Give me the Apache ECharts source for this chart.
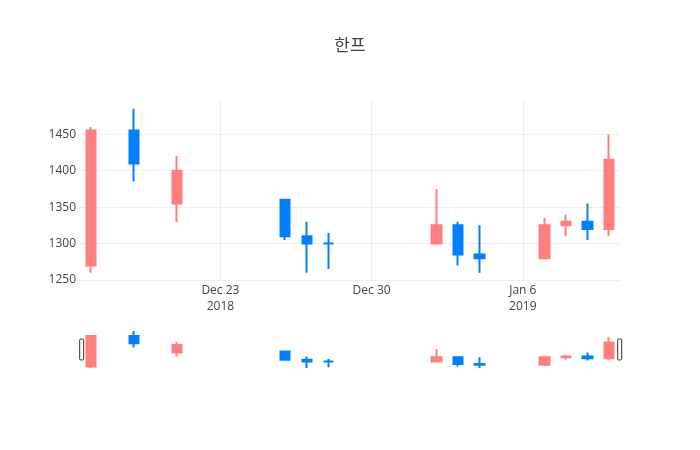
<!DOCTYPE html>
<html>
<head>
<meta charset="utf-8">
<script src="https://cdn.jsdelivr.net/npm/echarts@6/dist/echarts.min.js"></script>
<style>
  html, body { margin: 0; padding: 0; background: #fff; }
  #chart { width: 700px; height: 450px; }
</style>
</head>
<body>
<div id="chart"></div>
<script>
var dates = ['2018-12-17', '2018-12-19', '2018-12-21', '2018-12-26', '2018-12-27', '2018-12-28',
             '2019-01-02', '2019-01-03', '2019-01-04', '2019-01-07', '2019-01-08', '2019-01-09', '2019-01-10']
var opens  = [1270, 1455, 1355, 1360, 1310, 1300, 1300, 1325, 1285, 1280, 1325, 1330, 1320]
var highs  = [1460, 1485, 1420, 1360, 1330, 1315, 1375, 1330, 1325, 1335, 1340, 1355, 1450]
var lows   = [1260, 1385, 1330, 1305, 1260, 1265, 1300, 1270, 1260, 1280, 1310, 1305, 1310]
var closes = [1455, 1410, 1400, 1310, 1300, 1300, 1325, 1285, 1280, 1325, 1330, 1320, 1415]

var tickDates  = ['2018-12-23', '2018-12-30', '2019-01-06']
var tickLabels = ['Dec 23\n2018', 'Dec 30', 'Jan 6\n2019']

function toTime(s) {
    var p = s.split('-')
    return Date.UTC(+p[0], +p[1] - 1, +p[2])
}

var upColor = '#ff7f7f'
var downColor = '#0080ff'
var day = 24 * 3600 * 1000
var xMin = toTime('2018-12-16') + day / 2
var xMax = toTime('2019-01-10') + day / 2
var tickValues = tickDates.map(toTime)

var candles = dates.map(function (d, i) {
    return [toTime(d), opens[i], closes[i], lows[i], highs[i]]
})

var echart = echarts.init(document.getElementById('chart'))

var candleStyle = {
    color: upColor,
    color0: downColor,
    borderColor: upColor,
    borderColor0: downColor,
    borderColorDoji: downColor,
    borderWidth: 2
}

option = {
    animation: false,
    backgroundColor: '#fff',
    textStyle: { fontFamily: '"Open Sans", "Noto Sans CJK KR", sans-serif' },
    title: {
        text: '한프',
        left: 'center',
        top: 33,
        textStyle: {
            fontFamily: '"Open Sans", "Noto Sans CJK KR", sans-serif',
            fontSize: 17,
            fontWeight: 'normal',
            color: '#444'
        }
    },
    grid: [
        { left: 80, right: 80, top: 100, height: 180 },
        { left: 80, right: 80, top: 329, height: 41 }
    ],
    xAxis: [
        {
            type: 'value',
            gridIndex: 0,
            min: xMin,
            max: xMax,
            axisLine: { show: false },
            axisTick: { show: false, customValues: tickValues },
            axisLabel: {
                customValues: tickValues,
                color: '#444',
                fontSize: 12,
                lineHeight: 16,
                margin: 3,
                formatter: function (v) {
                    var i = tickValues.indexOf(v)
                    return i >= 0 ? tickLabels[i] : ''
                }
            },
            splitLine: { show: true, lineStyle: { color: '#eee', width: 1 } }
        },
        {
            type: 'value',
            gridIndex: 1,
            min: xMin,
            max: xMax,
            axisLine: { show: false },
            axisTick: { show: false },
            axisLabel: { show: false },
            splitLine: { show: false }
        }
    ],
    yAxis: [
        {
            type: 'value',
            gridIndex: 0,
            min: 1250,
            max: 1497,
            interval: 50,
            axisLine: { show: false },
            axisTick: { show: false },
            axisLabel: {
                color: '#444',
                fontSize: 12,
                margin: 4,
                showMaxLabel: false,
                formatter: function (v) { return String(v) }
            },
            splitLine: { show: true, showMaxLine: false, lineStyle: { color: '#eee', width: 1 } }
        },
        {
            type: 'value',
            gridIndex: 1,
            min: 1248,
            max: 1497,
            axisLine: { show: false },
            axisTick: { show: false },
            axisLabel: { show: false },
            splitLine: { show: false }
        }
    ],
    dataZoom: [
        {
            type: 'slider',
            xAxisIndex: [1],
            filterMode: 'none',
            start: 0,
            end: 100,
            left: 80,
            right: 80,
            top: 329,
            height: 41,
            backgroundColor: 'rgba(0,0,0,0)',
            borderColor: 'rgba(0,0,0,0)',
            fillerColor: 'rgba(0,0,0,0)',
            showDataShadow: false,
            showDetail: false,
            brushSelect: false,
            moveHandleSize: 0,
            handleIcon: 'path://M1,0 L3,0 Q4,0 4,1 L4,20 Q4,21 3,21 L1,21 Q0,21 0,20 L0,1 Q0,0 1,0 Z',
            handleSize: '51%',
            handleStyle: { color: '#fff', borderColor: '#333', borderWidth: 1 },
            dataBackground: { lineStyle: { opacity: 0 }, areaStyle: { opacity: 0 } },
            selectedDataBackground: { lineStyle: { opacity: 0 }, areaStyle: { opacity: 0 } }
        }
    ],
    series: [
        {
            name: '한프',
            type: 'candlestick',
            xAxisIndex: 0,
            yAxisIndex: 0,
            barWidth: 10,
            data: candles,
            itemStyle: candleStyle
        },
        {
            name: 'range',
            type: 'candlestick',
            xAxisIndex: 1,
            yAxisIndex: 1,
            barWidth: 10,
            silent: true,
            data: candles,
            itemStyle: candleStyle
        }
    ]
}

echart.setOption(option)
</script>
</body>
</html>
